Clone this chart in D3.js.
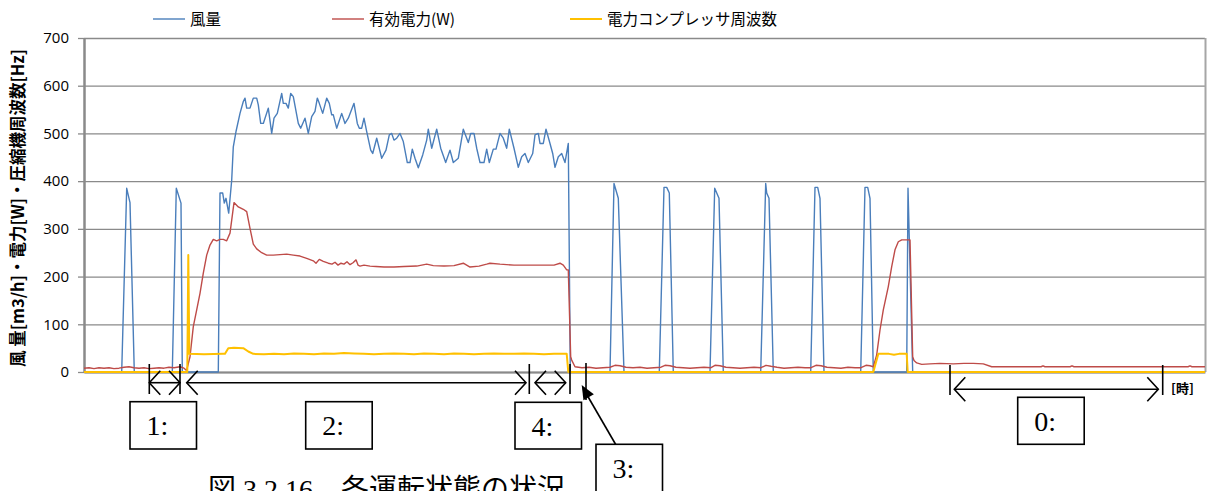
<!DOCTYPE html>
<html><head><meta charset="utf-8">
<script src="https://cdn.jsdelivr.net/npm/d3@7"></script>
<style>body{margin:0;background:#fff}svg{display:block}</style>
</head><body><svg id="c" width="1211" height="491"></svg>
<script>
// ---- data (t = elapsed time index, value) ----
const seriesNames = ["風量", "有効電力(W)", "電力コンプレッサ周波数"];
const yTicks = [0,100,200,300,400,500,600,700];
const windData = [[0,0],[37.7,0],[42.7,385],[46,355],[50.3,0],[88.3,0],[92.3,385],[97,354],[98.3,0],[134.3,0],[136,375],[138.7,375],[140.3,354],[142,364],[144.7,333],[147.7,402],[149.3,472],[152,504],[156,542],[159.3,567],[161,574],[162.7,553],[166,553],[169.3,574],[172.7,574],[174.3,560],[176.7,521],[179.3,521],[184.3,553],[187.7,500],[190,532],[193.3,542],[197.7,584],[199.3,563],[202,563],[204.3,553],[206.7,584],[209.3,577],[214.3,521],[216.7,511],[221,532],[224.3,500],[227.7,535],[231,546],[233.3,574],[235.3,563],[238.7,542],[242.7,574],[245.3,563],[247.7,539],[249.3,539],[252.7,511],[257.7,542],[261,521],[264.3,532],[270,563],[273.3,521],[275.3,511],[277.7,511],[280,532],[282.7,504],[286.7,465],[288.7,458],[292.7,490],[297.7,448],[302,465],[305.3,497],[307.7,500],[310,486],[312.7,490],[316,500],[319.3,483],[323.3,439],[326,439],[328.3,467],[331,448],[334.3,428],[338.7,455],[342.7,486],[344.3,509],[347.7,469],[352.7,509],[356.7,469],[361.7,439],[366,465],[369.3,439],[374.3,448],[379.3,509],[384.3,481],[386.7,500],[390,500],[392.7,469],[396,439],[400,439],[402.7,467],[405.3,439],[409.3,467],[412,467],[416,500],[419.3,490],[422.7,469],[425.3,509],[430,469],[434.3,429],[437.7,451],[441,458],[444.3,439],[448.7,458],[451,497],[454.3,500],[456,479],[459.3,479],[462,509],[466,479],[468.7,458],[471,429],[474.3,451],[477.7,458],[481,439],[484.3,479],[486.3,0],[526,0],[530,395],[534.3,364],[540,0],[575.3,0],[580,387],[582.7,387],[585.3,375],[589.3,0],[626,0],[630.7,385],[635,364],[639.3,0],[676.7,0],[681.7,395],[682.7,375],[685,364],[689.3,0],[726.7,0],[731,387],[733.7,387],[736,364],[740,0],[776.7,0],[781,387],[783.7,387],[786,364],[789.3,0],[822.7,0],[824,385],[828.7,0],[1121,0]];
const powerData = [[0,8],[5,9],[10,7],[15,9],[20,8],[25,9],[30,7],[35,8],[40,10],[45,11],[50,9],[55,8],[60,9],[65,7],[70,8],[75,9],[80,8],[85,10],[90,9],[96,11],[100,8],[102,4],[102.7,4],[106,32],[109.3,95],[112.7,130],[116,165],[119.3,207],[122.7,245],[126,266],[129.3,278],[132.7,275],[136,278],[139.3,278],[142.7,275],[146,291],[150,355],[154.3,346],[159.3,341],[162.7,336],[166,301],[169.3,268],[172.7,258],[177.7,250],[182.7,245],[189.3,245],[196,246],[202.7,247],[209.3,245],[216,243],[222.7,238],[229.3,233],[232,228],[235.3,236],[239.3,232],[244.3,228],[248,226],[251,230],[254,224],[257,228],[260,226],[263,231],[266,225],[269,229],[272,235],[274,224],[276,222],[280,224],[286,222],[292,221],[300,220],[310,220],[320,221],[332.7,222],[342.7,226],[349.3,223],[360,222],[370,223],[379.3,228],[386,220],[395,222],[402.7,226],[406,228],[416,226],[430,224],[445,224],[460,224],[470,224],[476,228],[479.3,224],[482.7,214],[484.3,214],[486.7,32],[487.7,25],[491,11],[498,9],[505,10],[512,8],[519,9],[526,10],[531,14],[536,13],[542,10],[549,9],[556,10],[563,8],[570,9],[577,10],[581,14],[586,13],[592,10],[599,9],[606,8],[613,9],[620,10],[627,9],[631,14],[636,13],[642,10],[649,9],[656,8],[663,9],[670,10],[677,9],[682,14],[687,12],[693,10],[700,8],[707,9],[714,10],[721,9],[727,9],[732,14],[737,13],[743,10],[750,9],[757,8],[764,10],[771,9],[777,9],[782,14],[786,13],[789.3,11],[792.7,36],[796,88],[799.3,130],[804.3,179],[807.7,221],[811,256],[814.3,273],[817.7,277],[826,277],[828.7,32],[830,24],[832.7,19],[837.7,16],[846,17],[856,18],[869.3,17],[880,18],[889.3,18],[899.3,17],[907.7,11],[930,11],[957,11],[959,13],[961,11],[986,11],[988,13],[990,11],[1020,11],[1060,11],[1104,11],[1106,13],[1108,11],[1121,11]];
const freqData = [[0,0],[103.3,0],[104.3,245],[105.3,38],[120,37],[139.3,38],[141,38],[144.3,50],[150,51],[159.3,50],[164.3,43],[169.3,38],[180,37],[190,38],[200,37],[210,39],[220,38],[230,37],[240,39],[250,38],[260,40],[270,39],[280,38],[290,37],[300,38],[310,39],[320,38],[330,37],[340,39],[350,38],[360,37],[370,39],[380,38],[390,37],[400,38],[410,39],[420,38],[430,38],[440,39],[450,38],[460,37],[470,38],[482.7,38],[484.3,0],[789.3,0],[794.3,38],[805,38],[810,36],[815,38],[822.7,38],[823.7,0],[1121,0]];
// annotation positions in time units
const barTimes = [65.3, 96, 445.3, 486, 866, 1078.7];
const bar3Time = 502;
const spanArrows = [[65.3,96,0],[102.7,442,0],[451,481.7,0],[870.3,1074.3,1]];
const labelBoxes = [["1:",46,0],["2:",221.7,0],["4:",431,1],["3:",512,2],["0:",933.7,3]];
const colors = ["#4a7ebb","#be4b48","#ffc000"];

const svg = d3.select("#c");
const L=84,R=1205,T=38,B=372;
const x = d3.scaleLinear().domain([0,1121]).range([L,R]);
const y = d3.scaleLinear().domain([0,700]).range([B,T]);

// grid
svg.append("g").attr("transform",`translate(${L},0)`)
  .call(d3.axisLeft(y).tickValues(yTicks).tickSize(-(R-L)).tickFormat(""))
  .call(g=>g.select(".domain").remove())
  .call(g=>g.selectAll("line").attr("stroke","#8a8a8a").attr("stroke-width",1.3));
// right border
svg.append("line").attr("x1",R+0.5).attr("x2",R+0.5).attr("y1",T).attr("y2",B)
  .attr("stroke","#a6a6a6").attr("stroke-width",2);
// y axis
const ya = svg.append("g").attr("transform",`translate(${L},0)`)
  .call(d3.axisLeft(y).tickValues(yTicks).tickSize(6).tickPadding(9).tickSizeOuter(0));
ya.select(".domain").attr("stroke","#8a8a8a").attr("stroke-width",2.5);
ya.selectAll("line").attr("stroke","#8a8a8a").attr("stroke-width",1.3);
ya.selectAll("text").attr("font-family","'Open Sans',sans-serif").attr("font-size",15).attr("fill","#000");
// x axis
const xa = svg.append("g").attr("transform",`translate(0,${B})`)
  .call(d3.axisBottom(x).tickValues([]).tickSizeOuter(0));
xa.select(".domain").attr("stroke","#8a8a8a").attr("stroke-width",2);

// lines
const line = d3.line().x(d=>x(d[0])).y(d=>y(d[1]));
[[windData,1.4],[powerData,1.4],[freqData,2]].forEach(([d,w],i)=>{
  svg.append("path").datum(d).attr("d",line).attr("fill","none")
    .attr("stroke",colors[i]).attr("stroke-width",w).attr("stroke-linejoin","round");
});

// y title
svg.append("text").attr("transform","translate(24,208) rotate(-90)")
  .attr("text-anchor","middle").attr("font-family","'Noto Sans CJK JP',sans-serif")
  .attr("font-weight","bold").attr("font-size",16.5)
  .text("風 量[m3/h]・電力[W]・圧縮機周波数[Hz]");

// legend
const legX = [153,332,570];
seriesNames.forEach((n,i)=>{
  svg.append("line").attr("x1",legX[i]).attr("x2",legX[i]+32).attr("y1",19).attr("y2",19)
    .attr("stroke",colors[i]).attr("stroke-width",i==2?2:1.4);
  svg.append("text").attr("x",legX[i]+37).attr("y",25).attr("font-family","'Noto Sans CJK JP',sans-serif")
    .attr("font-size",15.5).text(n);
});

// annotations
const ann = svg.append("g").attr("stroke","#000").attr("stroke-width",1.6).attr("fill","none");
barTimes.forEach((t,i)=>{
  const y0 = i>=4?365:364;
  ann.append("line").attr("x1",x(t)).attr("x2",x(t)).attr("y1",y0).attr("y2",y0+30);
});
ann.append("line").attr("x1",x(bar3Time)).attr("x2",x(bar3Time)).attr("y1",363).attr("y2",400);
spanArrows.forEach(([a,b,k])=>{
  const yy = k? 389.3 : 382.7;
  const xa=x(a), xb=x(b);
  ann.append("line").attr("x1",xa).attr("x2",xb).attr("y1",yy).attr("y2",yy);
  ann.append("path").attr("d",`M${xa+11},${yy-12}L${xa},${yy}L${xa+11},${yy+12}`);
  ann.append("path").attr("d",`M${xb-11},${yy-12}L${xb},${yy}L${xb-11},${yy+12}`);
});
// arrow to 3
const tip=[581.7,385], base=[616,445];
ann.append("line").attr("x1",base[0]).attr("y1",base[1]).attr("x2",tip[0]+3).attr("y2",tip[1]+6);
{
  const ang=Math.atan2(tip[1]-base[1],tip[0]-base[0]);
  const len=14, hw=6;
  const bx=tip[0]-len*Math.cos(ang), by=tip[1]-len*Math.sin(ang);
  const px=-Math.sin(ang)*hw, py=Math.cos(ang)*hw;
  svg.append("path").attr("d",`M${tip[0]},${tip[1]}L${bx+px},${by+py}L${bx-px},${by-py}Z`).attr("fill","#000");
}
// boxes
const boxY=[[401.7,47.3],[402.3,46.7],[444.3,60],[397.3,47]];
labelBoxes.forEach(([txt,t,k])=>{
  const bx=x(t), [by,bh]=boxY[k];
  svg.append("rect").attr("x",bx).attr("y",by).attr("width",66.5).attr("height",bh)
    .attr("fill","#fff").attr("stroke","#000").attr("stroke-width",1.6);
  svg.append("text").attr("x",bx+16.5).attr("y",by+33.5).attr("font-family","'Liberation Serif',serif")
    .attr("font-size",28).text(txt);
});
// x unit
svg.append("text").attr("x",1171).attr("y",393).attr("font-family","'Noto Sans CJK JP',sans-serif")
  .attr("font-weight","bold").attr("font-size",13).text("[時]");
// caption
svg.append("text").attr("x",208).attr("y",499).attr("font-family","'Liberation Serif','Noto Sans CJK JP',serif")
  .attr("font-size",28).text("図 3.2.16　各運転状態の状況");
</script></body></html>
